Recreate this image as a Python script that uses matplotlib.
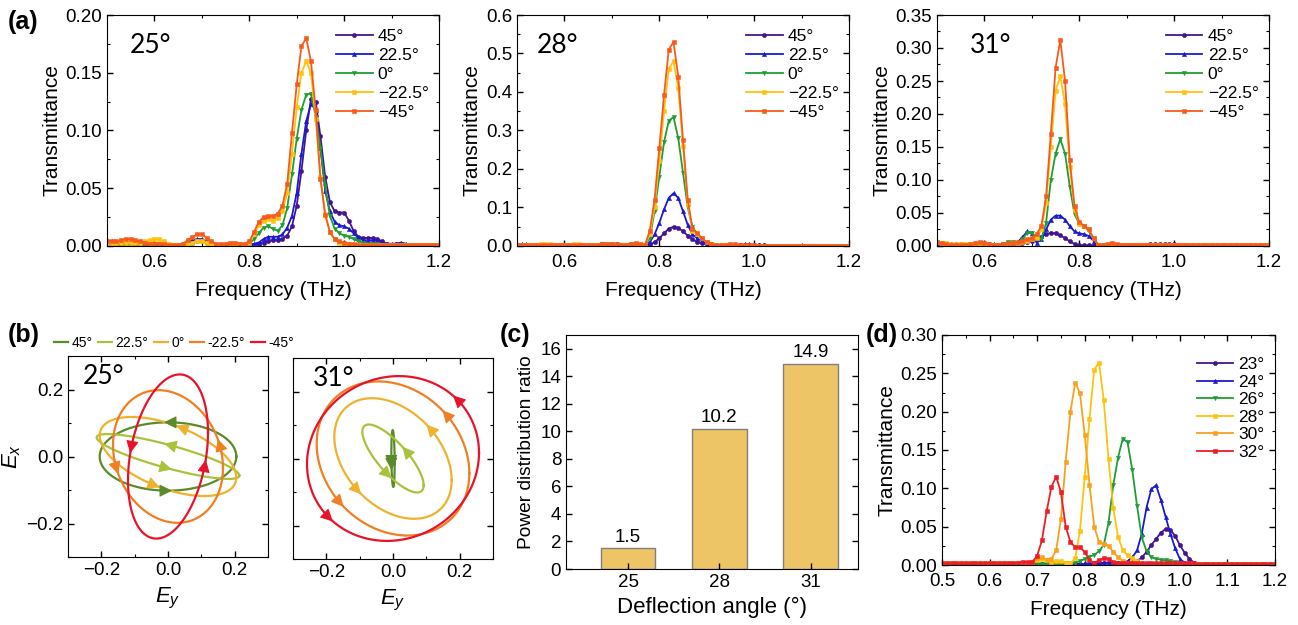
import numpy as np
import matplotlib.pyplot as plt
from matplotlib.ticker import MultipleLocator
from matplotlib.lines import Line2D

plt.rcParams['font.family'] = ['Liberation Sans', 'DejaVu Sans']
plt.rcParams['mathtext.fontset'] = 'custom'
plt.rcParams['mathtext.it'] = 'Liberation Sans:italic'
plt.rcParams['mathtext.rm'] = 'Liberation Sans'

# ---------------- data ----------------
# frequency sampling (THz), 0.50 ... 1.20
freq = np.round(np.arange(0.50, 1.2001, 0.01), 2)

pol_labels_a = ['45°', '22.5°', '0°', '\u221222.5°', '\u221245°']
pol_labels_b = ['45°', '22.5°', '0°', '-22.5°', '-45°']

# (a) 25 deg
t25_p45 = [.002,.002,.002,.002,.002,.002,.002,.002,.002,.002,
           .001,.001,.001,.001,.001,.001,.001,.002,.003,.004,
           .004,.003,.002,.001,.001,.001,.002,.002,.002,.001,
           .001,.001,.002,.003,.004,.005,.005,.006,.009,.017,
           .035,.065,.100,.127,.125,.095,.060,.038,.030,.029,
           .029,.022,.013,.008,.007,.007,.007,.006,.004,.002,
           .001,.002,.002,.001,.001,.001,.001,.001,.001,.001, .001]
t25_p22 = [.005,.004,.003,.002,.002,.002,.002,.002,.002,.001,
           .001,.001,.001,.001,.001,.001,.002,.003,.005,.006,
           .006,.004,.002,.001,.001,.001,.002,.002,.001,.001,
           .001,.002,.003,.006,.008,.008,.008,.010,.016,.026,
           .046,.080,.108,.123,.118,.085,.048,.030,.021,.018,
           .017,.015,.011,.007,.005,.004,.005,.005,.003,.002,
           .002,.002,.003,.002,.001,.001,.001,.001,.001,.001, .001]
t25_0 = [.002,.002,.002,.002,.002,.002,.002,.002,.002,.002,
         .002,.002,.002,.001,.001,.001,.001,.002,.003,.004,
         .004,.003,.002,.001,.001,.001,.001,.001,.001,.001,
         .002,.006,.011,.016,.017,.015,.013,.018,.033,.062,
         .093,.118,.131,.132,.112,.085,.052,.026,.015,.011,
         .009,.008,.006,.004,.003,.002,.002,.002,.001,.001,
         .001,.001,.001,.001,.001,.001,.001,.001,.001,.001, .001]
t25_m22 = [.003,.003,.003,.003,.003,.003,.003,.003,.004,.005,
           .006,.006,.004,.002,.001,.001,.001,.002,.003,.004,
           .004,.003,.002,.001,.001,.001,.002,.002,.002,.001,
           .003,.010,.018,.022,.023,.022,.024,.030,.046,.080,
           .120,.150,.160,.150,.110,.060,.028,.012,.006,.003,
           .002,.002,.001,.001,.001,.001,.001,.001,.001,.001,
           .001,.001,.001,.001,.001,.001,.001,.001,.001,.001, .001]
t25_m45 = [.004,.004,.004,.005,.006,.006,.005,.004,.003,.002,
           .002,.002,.002,.001,.001,.001,.002,.005,.008,.010,
           .010,.007,.004,.002,.002,.002,.003,.003,.002,.002,
           .004,.012,.021,.025,.026,.026,.028,.035,.054,.098,
           .140,.173,.180,.160,.118,.058,.027,.012,.006,.004,
           .003,.002,.002,.001,.001,.001,.001,.001,.001,.001,
           .001,.001,.001,.001,.001,.001,.001,.001,.001,.001, .001]

# (a) 28 deg
t28_p45 = [.003,.003,.002,.002,.002,.002,.002,.002,.002,.002,
           .002,.002,.002,.002,.002,.002,.002,.003,.004,.006,
           .006,.004,.002,.001,.001,.001,.001,.001,.003,.010,
           .020,.033,.045,.050,.047,.038,.027,.017,.010,.007,
           .005,.003,.002,.002,.002,.002,.002,.002,.003,.003,
           .003,.002,.002,.001,.001,.001,.001,.001,.001,.001,
           .001,.001,.001,.001,.001,.001,.001,.001,.001,.001, .001]
t28_p22 = [.004,.005,.004,.003,.002,.002,.002,.002,.002,.002,
           .002,.002,.002,.002,.002,.002,.002,.003,.004,.005,
           .005,.003,.002,.001,.001,.001,.001,.001,.010,.030,
           .060,.095,.125,.137,.125,.090,.055,.030,.020,.012,
           .006,.003,.002,.002,.002,.002,.002,.003,.004,.004,
           .003,.002,.002,.001,.001,.001,.001,.001,.001,.001,
           .001,.001,.001,.001,.001,.001,.001,.001,.001,.001, .001]
t28_0 = [.002,.002,.002,.002,.002,.002,.002,.002,.002,.002,
         .002,.002,.002,.002,.002,.002,.002,.003,.004,.004,
         .004,.003,.002,.002,.003,.004,.003,.002,.020,.090,
         .180,.270,.325,.335,.280,.190,.100,.050,.030,.018,
         .010,.004,.002,.001,.001,.001,.001,.001,.001,.001,
         .001,.001,.001,.001,.001,.001,.001,.001,.001,.001,
         .001,.001,.001,.001,.001,.001,.001,.001,.001,.001, .001]
t28_m22 = [.002,.002,.002,.003,.003,.004,.004,.004,.003,.003,
           .003,.003,.004,.004,.003,.002,.002,.003,.003,.004,
           .004,.003,.002,.003,.005,.006,.004,.002,.030,.100,
           .220,.350,.460,.480,.410,.260,.110,.040,.030,.020,
           .010,.004,.002,.002,.002,.002,.001,.001,.001,.001,
           .001,.001,.001,.001,.001,.001,.001,.001,.001,.001,
           .001,.001,.001,.001,.001,.001,.001,.001,.001,.001, .001]
t28_m45 = [.002,.002,.002,.002,.002,.003,.003,.003,.003,.002,
           .002,.002,.002,.002,.002,.002,.002,.003,.004,.005,
           .005,.004,.002,.003,.006,.007,.005,.003,.040,.120,
           .254,.392,.510,.530,.440,.275,.120,.045,.033,.020,
           .010,.004,.002,.002,.003,.004,.004,.003,.002,.002,
           .002,.001,.001,.001,.001,.001,.001,.001,.001,.001,
           .001,.001,.001,.001,.001,.001,.001,.001,.001,.001, .001]

# (a) 31 deg
t31_p45 = [.005,.004,.003,.003,.003,.003,.002,.002,.002,.003,
           .003,.003,.002,.002,.002,.002,.002,.003,.004,.006,
           .008,.010,.014,.018,.020,.019,.016,.012,.007,.003,
           .001,.001,.001,.001,.001,.002,.002,.002,.002,.002,
           .002,.002,.002,.002,.002,.003,.003,.003,.003,.003,
           .003,.002,.002,.002,.002,.001,.001,.001,.001,.001,
           .001,.001,.001,.001,.001,.001,.001,.001,.001,.001, .001]
t31_p22 = [.004,.004,.003,.002,.002,.002,.002,.002,.003,.004,
           .002,.002,.003,.002,.002,.002,.004,.006,.013,.022,
           .020,.005,.010,.025,.040,.046,.046,.040,.030,.022,
           .019,.018,.015,.008,.002,.001,.001,.001,.001,.001,
           .001,.001,.001,.001,.001,.001,.001,.001,.001,.001,
           .001,.001,.001,.001,.001,.001,.001,.001,.001,.001,
           .001,.001,.001,.001,.001,.001,.001,.001,.001,.001, .001]
t31_0 = [.003,.003,.002,.002,.002,.002,.002,.002,.002,.002,
         .002,.002,.002,.002,.003,.006,.006,.005,.010,.020,
         .020,.012,.011,.035,.100,.140,.162,.140,.090,.048,
         .034,.030,.023,.011,.002,.001,.001,.001,.001,.001,
         .001,.001,.001,.001,.001,.001,.001,.001,.001,.001,
         .001,.001,.001,.001,.001,.001,.001,.001,.001,.001,
         .001,.001,.001,.001,.001,.001,.001,.001,.001,.001, .001]
t31_m22 = [.006,.005,.004,.003,.003,.003,.003,.003,.003,.004,
           .003,.002,.002,.002,.002,.003,.004,.005,.006,.008,
           .010,.012,.025,.065,.150,.235,.258,.215,.120,.055,
           .034,.030,.025,.012,.002,.002,.003,.003,.002,.002,
           .002,.002,.002,.001,.001,.001,.001,.001,.001,.001,
           .001,.001,.001,.001,.001,.001,.001,.001,.001,.001,
           .001,.001,.001,.001,.001,.001,.001,.001,.001,.001, .001]
t31_m45 = [.006,.004,.003,.002,.002,.002,.002,.003,.004,.006,
           .005,.003,.002,.002,.003,.004,.005,.006,.008,.010,
           .012,.018,.030,.075,.170,.270,.312,.250,.130,.060,
           .036,.031,.025,.012,.002,.002,.003,.004,.003,.002,
           .002,.002,.002,.002,.001,.001,.001,.001,.001,.001,
           .001,.001,.001,.001,.001,.001,.001,.001,.001,.001,
           .001,.001,.001,.001,.001,.001,.001,.001,.001,.001, .001]

# (b) polarization ellipses: Ey = a cos t, Ex = b cos(t - phase)
ey_amp_25 = [0.205, 0.214, 0.205, 0.165, 0.120]
ex_amp_25 = [0.102, 0.067, 0.118, 0.198, 0.245]
phase_25 = [90, 148, 122, 100, 73]
arrow_t_25 = [(90, 270), (90, 270), (80, 260), (22, 202), (158, 338)]

ey_amp_31 = [0.005, 0.092, 0.176, 0.229, 0.258]
ex_amp_31 = [0.085, 0.1015, 0.180, 0.230, 0.246]
phase_31 = [100, 142, 111, 101, 86]
arrow_t_31 = [(200, 206), (67, 262), (52, 234), (47, 227), (43, 223)]

# (c)
defl_angles = ['25', '28', '31']
power_ratio = [1.5, 10.2, 14.9]

# (d)
d_labels = ['23°', '24°', '26°', '28°', '30°', '32°']
d23 = [.001,.001,.001,.001,.001,.001,.001,.001,.001,.001,
       .001,.001,.001,.001,.001,.001,.001,.001,.001,.001,
       .001,.001,.001,.001,.001,.001,.001,.001,.001,.001,
       .001,.001,.002,.002,.003,.003,.002,.002,.002,.002,
       .003,.005,.010,.017,.026,.034,.042,.047,.046,.038,
       .026,.016,.008,.003,.001,.001,.001,.001,.001,.001,
       .001,.001,.001,.001,.001,.001,.001,.001,.001,.001, .001]
d24 = [.001,.001,.001,.001,.001,.001,.001,.001,.001,.001,
       .001,.001,.001,.001,.001,.001,.001,.001,.001,.001,
       .001,.001,.001,.001,.001,.001,.001,.001,.001,.001,
       .001,.001,.001,.001,.002,.003,.003,.003,.003,.005,
       .010,.019,.041,.075,.099,.104,.085,.063,.041,.022,
       .008,.003,.001,.001,.001,.001,.001,.001,.001,.001,
       .001,.001,.001,.001,.001,.001,.001,.001,.001,.001, .001]
d26 = [.001,.001,.001,.001,.001,.001,.001,.001,.001,.001,
       .001,.001,.001,.002,.002,.001,.001,.001,.001,.001,
       .001,.001,.001,.001,.001,.001,.002,.002,.003,.005,
       .008,.011,.013,.018,.026,.055,.104,.140,.165,.160,
       .124,.077,.036,.018,.010,.008,.007,.006,.005,.004,
       .002,.001,.001,.001,.001,.001,.001,.001,.001,.001,
       .001,.001,.001,.001,.001,.001,.001,.001,.001,.001, .001]
d28 = [.002,.002,.002,.002,.002,.003,.003,.002,.002,.002,
       .002,.002,.002,.002,.002,.002,.002,.002,.002,.003,
       .006,.008,.006,.004,.005,.005,.003,.002,.009,.045,
       .115,.190,.255,.264,.215,.138,.074,.037,.019,.013,
       .009,.005,.002,.001,.001,.001,.001,.001,.001,.001,
       .001,.001,.001,.001,.001,.001,.001,.001,.001,.001,
       .001,.001,.001,.001,.001,.001,.001,.001,.001,.001, .001]
d30 = [.001,.001,.001,.001,.001,.001,.001,.001,.001,.001,
       .001,.001,.001,.001,.001,.001,.002,.003,.003,.004,
       .009,.010,.007,.008,.019,.060,.135,.200,.238,.224,
       .170,.105,.050,.030,.028,.025,.017,.010,.005,.003,
       .002,.001,.001,.001,.001,.001,.001,.001,.001,.001,
       .001,.001,.001,.001,.001,.001,.001,.001,.001,.001,
       .001,.001,.001,.001,.001,.001,.001,.001,.001,.001, .001]
d32 = [.002,.002,.002,.002,.002,.002,.002,.002,.002,.002,
       .003,.002,.002,.002,.002,.002,.003,.004,.004,.004,
       .012,.032,.070,.102,.115,.095,.050,.030,.023,.023,
       .017,.006,.003,.006,.009,.008,.004,.003,.003,.002,
       .002,.002,.002,.002,.002,.002,.002,.002,.002,.002,
       .002,.002,.002,.002,.001,.001,.001,.001,.001,.001,
       .001,.001,.001,.001,.001,.001,.001,.001,.001,.001, .001]

# ---------------- styles ----------------
a_colors = ['#45158f', '#1a1ad6', '#1f9e35', '#ffc20e', '#f85a1b']
a_markers = ['o', '^', 'v', 's', 's']
d_colors = ['#45158f', '#1a1ad6', '#1f9e35', '#ffc20e', '#f7a11f', '#ee1d25']
d_markers = ['o', '^', 'v', 's', 's', 's']
b_colors = ['#5b8a2b', '#a9c23c', '#efb22e', '#f07e22', '#e8132b']

W, H = 1298, 625
fig = plt.figure(figsize=(W / 100, H / 100), dpi=100)


def px_axes(x0, y0, x1, y1):
    return fig.add_axes([x0 / W, 1 - y1 / H, (x1 - x0) / W, (y1 - y0) / H])


def style_ticks(ax):
    ax.tick_params(which='both', direction='in', top=True, right=True, labelsize=13.5)
    ax.tick_params(which='major', length=4, width=1)
    ax.tick_params(which='minor', length=2.5, width=0.8)


def spectrum(ax, series, colors, markers, labels, ymax, ystep, ylabfmt, tag, tagx):
    for y, c, m, lab in zip(series, colors, markers, labels):
        ax.plot(freq, y, color=c, marker=m, ms=3, mew=0.4, lw=1.3, label=lab)
    ax.set_xlim(0.5, 1.2)
    ax.set_ylim(0, ymax)
    ax.yaxis.set_major_locator(MultipleLocator(ystep))
    ax.yaxis.set_minor_locator(MultipleLocator(ystep / 2))
    ax.yaxis.set_major_formatter(ylabfmt)
    style_ticks(ax)
    ax.tick_params(axis='x', which='major', pad=6)
    ax.set_xlabel('Frequency (THz)', fontsize=15, labelpad=7)
    ax.set_ylabel('Transmittance', fontsize=15, labelpad=3)
    if tag:
        ax.text(tagx, 0.87, tag, transform=ax.transAxes, fontsize=19,
                family=['Lato', 'DejaVu Sans'], va='center')


# (a)
a_sets = [
    (107, [t25_p45, t25_p22, t25_0, t25_m22, t25_m45], 0.20, 0.05, '{x:.2f}', '25°', 0.07),
    (517, [t28_p45, t28_p22, t28_0, t28_m22, t28_m45], 0.60, 0.1, '{x:.1f}', '28°', 0.06),
    (937, [t31_p45, t31_p22, t31_0, t31_m22, t31_m45], 0.35, 0.05, '{x:.2f}', '31°', 0.10),
]
for x0, series, ymax, ystep, fmt, tag, tagx in a_sets:
    ax = px_axes(x0, 15, x0 + 332, 246)
    spectrum(ax, series, a_colors, a_markers, pol_labels_a, ymax, ystep, fmt, tag, tagx)
    ax.xaxis.set_major_locator(MultipleLocator(0.2))
    ax.xaxis.set_minor_locator(MultipleLocator(0.1))
    ax.legend(loc='upper right', bbox_to_anchor=(1.0, 0.985), frameon=False,
              fontsize=12.5, handlelength=2.1, handletextpad=0.3, labelspacing=0.22,
              borderaxespad=0.2)

# (b)
b_sets = [
    (68, 356, ey_amp_25, ex_amp_25, phase_25, arrow_t_25, '25°', 0.075, True),
    (293, 358, ey_amp_31, ex_amp_31, phase_31, arrow_t_31, '31°', 0.10, False),
]
tt = np.linspace(0, 2 * np.pi, 400)
for x0, y0, ea, xa, ph, arr, tag, tagx, ylab in b_sets:
    ax = px_axes(x0, y0, x0 + 200, y0 + 201)
    for a, b, d, ts, c in zip(ea, xa, ph, arr, b_colors):
        dr = np.deg2rad(d)
        ax.plot(a * np.cos(tt), b * np.cos(tt - dr), color=c, lw=1.6)
        for tdeg in ts:
            t0 = np.deg2rad(tdeg)
            p = np.array([a * np.cos(t0), b * np.cos(t0 - dr)])
            v = np.array([-a * np.sin(t0), -b * np.sin(t0 - dr)])
            v = v / np.hypot(*v) * 0.012
            ax.annotate('', xy=p + v, xytext=p - v,
                        arrowprops=dict(arrowstyle='-|>,head_length=0.7,head_width=0.35',
                                        color=c, lw=0.8, shrinkA=0, shrinkB=0,
                                        mutation_scale=11))
    ax.set_xlim(-0.3, 0.3)
    ax.set_ylim(-0.3, 0.3)
    ax.xaxis.set_major_locator(MultipleLocator(0.2))
    ax.xaxis.set_minor_locator(MultipleLocator(0.1))
    ax.yaxis.set_major_locator(MultipleLocator(0.2))
    ax.yaxis.set_minor_locator(MultipleLocator(0.1))
    ax.xaxis.set_major_formatter('{x:.1f}')
    ax.yaxis.set_major_formatter('{x:.1f}')
    style_ticks(ax)
    ax.set_xlabel(r'$E_y$', fontsize=16, labelpad=5)
    if ylab:
        ax.set_ylabel(r'$E_x$', fontsize=16, labelpad=2)
    else:
        ax.tick_params(labelleft=False)
    ax.text(tagx, 0.9, tag, transform=ax.transAxes, fontsize=19,
            family=['Lato', 'DejaVu Sans'], va='center')

b_handles = [Line2D([], [], color=c, lw=1.6) for c in b_colors]
fig.legend(b_handles, pol_labels_b, loc='center', bbox_to_anchor=(0.134, 0.451),
           ncol=5, frameon=False, fontsize=10, handlelength=1.0, handletextpad=0.25,
           columnspacing=0.4)

# (c)
ax = px_axes(566, 335, 858, 569)
pos = np.arange(len(defl_angles))
bars = ax.bar(pos, power_ratio, width=0.6, color='#edc466', edgecolor='#7f7f7f', lw=1)
for x, v in zip(pos, power_ratio):
    ax.text(x, v + 0.2, f'{v}', ha='center', va='bottom', fontsize=13.5)
ax.set_xticks(pos, defl_angles)
ax.set_xlim(-0.68, 2.52)
ax.set_ylim(0, 17)
ax.yaxis.set_major_locator(MultipleLocator(2))
style_ticks(ax)
ax.tick_params(top=False)
ax.set_xlabel('Deflection angle (°)', fontsize=16)
ax.set_ylabel('Power distribution ratio', fontsize=13.8, labelpad=4)

# (d)
ax = px_axes(942, 335, 1275, 565)
spectrum(ax, [d23, d24, d26, d28, d30, d32], d_colors, d_markers, d_labels,
         0.30, 0.05, '{x:.2f}', None, 0)
ax.xaxis.set_major_locator(MultipleLocator(0.1))
ax.xaxis.set_minor_locator(MultipleLocator(0.05))
ax.xaxis.set_major_formatter('{x:.1f}')
ax.legend(loc='upper right', bbox_to_anchor=(1.0, 0.95), frameon=False,
          fontsize=12.5, handlelength=2.1, handletextpad=0.3, labelspacing=0.14,
          borderaxespad=0.2)

# panel tags
for s, x, y in [('(a)', 8, 22), ('(b)', 8, 335), ('(c)', 500, 335), ('(d)', 866, 335)]:
    fig.text(x / W, 1 - y / H, s, fontsize=18, fontweight='bold', va='center')

fig.savefig('out.png', dpi=100)
